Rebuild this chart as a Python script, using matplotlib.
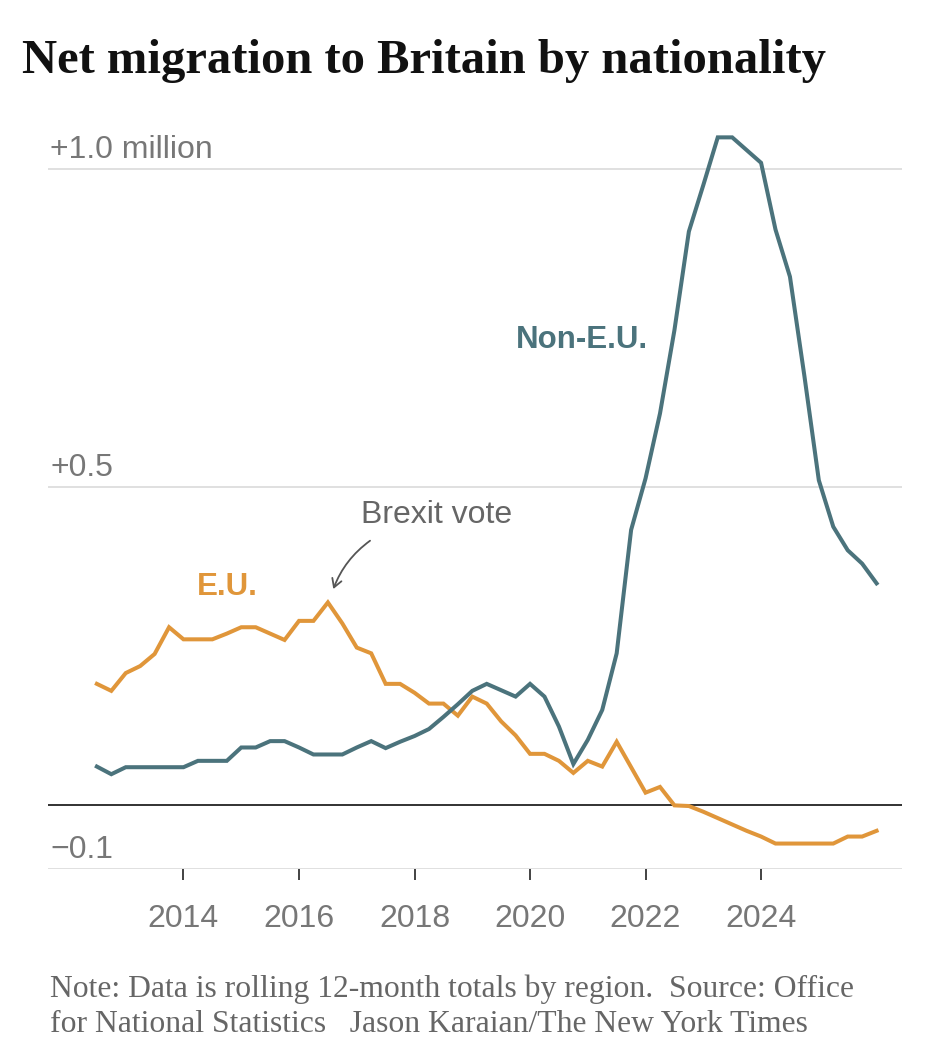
import numpy as np
import matplotlib
matplotlib.use("Agg")
import matplotlib.pyplot as plt

# Quarterly rolling 12-month totals (millions)
start_year = 2012.5
eu = [0.191, 0.180, 0.208, 0.219, 0.238, 0.280, 0.261, 0.261, 0.261, 0.270,
      0.280, 0.280, 0.270, 0.260, 0.290, 0.290, 0.319, 0.286, 0.248, 0.239,
      0.191, 0.191, 0.177, 0.160, 0.160, 0.141, 0.171, 0.160, 0.132, 0.110,
      0.081, 0.081, 0.070, 0.051, 0.070, 0.061, 0.100, 0.060, 0.020, 0.029,
      0.000, -0.001, -0.010, -0.020, -0.030, -0.040, -0.049, -0.060, -0.060, -0.060,
      -0.060, -0.060, -0.049, -0.049, -0.040]
non_eu = [0.061, 0.049, 0.060, 0.060, 0.060, 0.060, 0.060, 0.070, 0.070, 0.070,
          0.091, 0.091, 0.101, 0.101, 0.091, 0.080, 0.080, 0.080, 0.091, 0.101,
          0.090, 0.100, 0.109, 0.120, 0.139, 0.159, 0.180, 0.191, 0.181, 0.171,
          0.191, 0.171, 0.124, 0.065, 0.103, 0.150, 0.239, 0.433, 0.514, 0.616,
          0.747, 0.902, 0.975, 1.050, 1.050, 1.030, 1.010, 0.905, 0.831, 0.675,
          0.511, 0.438, 0.401, 0.380, 0.349]
x_ticks = [2014, 2016, 2018, 2020, 2022, 2024]
y_grid = [1.0, 0.5, -0.1]
y_labels = ["+1.0 million", "+0.5", "\u22120.1"]

dates = start_year + 0.25 * np.arange(len(eu))

EU_COLOR = "#E0963A"
NON_EU_COLOR = "#4B737C"
GRAY = "#777777"
SANS = "Liberation Sans"
SERIF = "Liberation Serif"

W, H = 950, 1056
fig = plt.figure(figsize=(W / 100, H / 100), dpi=100)
# axes spans pixel x 48..902, y 131..869
ax = fig.add_axes([48 / W, (H - 869) / H, 854 / W, (869 - 131) / H])
ax.set_xlim(2011.654, 2026.44)
ax.set_ylim(-0.1, 1.06)

for v in y_grid:
    ax.axhline(v, color="#dddddd", lw=1.3, zorder=1)
ax.axhline(0, color="#222222", lw=1.3, zorder=2)

ax.plot(dates, eu, color=EU_COLOR, lw=2.9, zorder=3, solid_joinstyle="miter", clip_on=False)
ax.plot(dates, non_eu, color=NON_EU_COLOR, lw=2.9, zorder=4, solid_joinstyle="miter", clip_on=False)

for s in ax.spines.values():
    s.set_visible(False)
ax.set_yticks([])
ax.set_xticks(x_ticks)
ax.set_xticklabels([str(t) for t in x_ticks], fontsize=23, color=GRAY, family=SANS)
ax.tick_params(axis="x", length=8, width=1.2, color="#222222", pad=17)

for v, lab in zip(y_grid, y_labels):
    ax.annotate(lab, xy=(0, v), xycoords=("axes fraction", "data"), xytext=(1.5, 8),
                textcoords="offset points", ha="left", va="baseline",
                fontsize=23, color=GRAY, family=SANS)

ax.text(2014.76, 0.331, "E.U.", color=EU_COLOR, fontsize=22.5, fontweight="bold",
        family=SANS, ha="center", va="baseline")
ax.text(2020.895, 0.719, "Non-E.U.", color=NON_EU_COLOR, fontsize=22.5, fontweight="bold",
        family=SANS, ha="center", va="baseline")
ax.text(2018.38, 0.444, "Brexit vote", color="#666666", fontsize=23,
        family=SANS, ha="center", va="baseline")
ax.annotate("", xy=(2016.594, 0.340), xytext=(2017.23, 0.416),
            arrowprops=dict(arrowstyle="->,head_length=0.6,head_width=0.35",
                            color="#555555", lw=1.3, shrinkA=0, shrinkB=0,
                            connectionstyle="arc3,rad=0.15"))

fig.text(22 / W, 1 - 73 / H, "Net migration to Britain by nationality",
         fontsize=35, fontweight="bold", family=SERIF,
         color="#111111", ha="left", va="baseline")

fig.text(50 / W, 1 - 997 / H,
         "Note: Data is rolling 12-month totals by region.  Source: Office",
         fontsize=22.8, family=SERIF, color="#666666", ha="left", va="baseline")
fig.text(50 / W, 1 - 1032 / H,
         "for National Statistics   Jason Karaian/The New York Times",
         fontsize=22.8, family=SERIF, color="#666666", ha="left", va="baseline")

fig.savefig("out.png", dpi=100)
